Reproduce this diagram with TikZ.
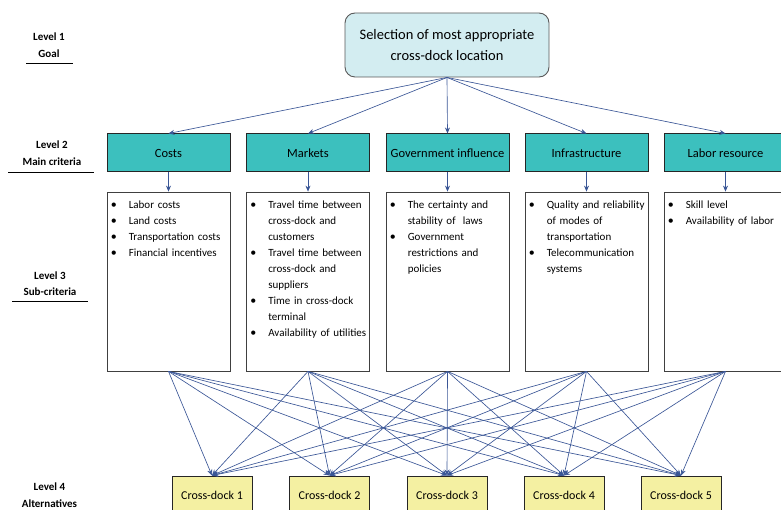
\documentclass[tikz,border=0pt]{standalone}
\usepackage{fontspec}
\setmainfont{Carlito}
\usetikzlibrary{arrows.meta}
\definecolor{arrowblue}{HTML}{3A5696}
\definecolor{goalfill}{HTML}{D3EDF1}
\definecolor{critfill}{HTML}{3CC0BE}
\definecolor{altfill}{HTML}{F4F0A2}
\tikzset{
  goalbox/.style={draw=black!65, line width=0.9pt, fill=goalfill, rounded corners=10pt, minimum width=204pt, minimum height=64pt, inner sep=0pt, align=center, font=\fontsize{14.5}{21}\selectfont},
  critbox/.style={draw=black!85, line width=1pt, fill=critfill, minimum width=123pt, minimum height=38pt, inner sep=0pt, font=\fontsize{12.5}{15}\selectfont},
  subbox/.style={draw=black!75, line width=0.8pt, fill=white, minimum width=123pt, minimum height=179pt, inner sep=0pt},
  subtext/.style={anchor=north west, inner sep=0pt, text width=121pt, align=left, font=\fontsize{11}{16}\selectfont},
  altbox/.style={draw=black!85, line width=1pt, fill=altfill, minimum width=80pt, minimum height=38pt, inner sep=0pt, font=\fontsize{12}{15}\selectfont},
  lvl/.style={align=center, inner sep=0pt, font=\bfseries\fontsize{11}{16.5}\selectfont},
  conn/.style={draw=arrowblue, line width=0.65pt, -{Stealth[length=6pt,width=5pt]}},
  uline/.style={draw=black, line width=0.7pt}
}
\newcommand{\bitem}[1]{\noindent\hangindent=18pt\hangafter=1\hyphenpenalty=10000\makebox[18pt][l]{\large\textbullet}#1\par}
\begin{document}
\begin{tikzpicture}[x=1pt,y=-1pt]
\useasboundingbox (0,0) rectangle (781,510);
% level labels
\node[lvl] (l1) at (49,45) {Level 1\\Goal};
\node[lvl] (l2) at (52,153) {Level 2\\Main criteria};
\node[lvl] (l3) at (50,283.5) {Level 3\\Sub-criteria};
\node[lvl] (l4) at (49.5,495) {Level 4\\Alternatives};
\draw[uline] (26,63) -- (73,63);
\draw[uline] (8,172) -- (94,172);
\draw[uline] (12,301) -- (88,301);
% goal
\node[goalbox] (g) at (447,45) {Selection of most appropriate\\cross-dock location};
% level 2
\node[critbox] (c1) at (168.5,153) {Costs};
\node[critbox] (c2) at (308,153) {Markets};
\node[critbox] (c3) at (447.5,153) {Government influence};
\node[critbox] (c4) at (586.5,153) {Infrastructure};
\node[critbox] (c5) at (725.5,153) {Labor resource};
% level 3
\foreach \i/\x in {1/168.5,2/308,3/447.5,4/586.5,5/725.5}{
  \node[subbox] (s\i) at (\x,281.5) {};
}
\node[subtext] (t1) at ([xshift=4pt,yshift=-9pt]s1.north west) {%
\bitem{Labor costs}\bitem{Land costs}\bitem{Transportation costs}\bitem{Financial incentives}};
\node[subtext] (t2) at ([xshift=4pt,yshift=-9pt]s2.north west) {%
\bitem{Travel time between cross-dock and customers}\bitem{Travel time between cross-dock and suppliers}\bitem{Time in cross-dock terminal}\bitem{Availability of utilities}};
\node[subtext] (t3) at ([xshift=4pt,yshift=-9pt]s3.north west) {%
\bitem{The certainty and stability of\ \ laws}\bitem{Government restrictions and policies}};
\node[subtext] (t4) at ([xshift=4pt,yshift=-9pt]s4.north west) {%
\bitem{Quality and reliability of modes of transportation}\bitem{Telecommunication systems}};
\node[subtext] (t5) at ([xshift=4pt,yshift=-9pt]s5.north west) {%
\bitem{Skill level}\bitem{Availability of labor}};
% level 4
\node[altbox] (a1) at (212,495) {Cross-dock 1};
\node[altbox] (a2) at (329.5,495) {Cross-dock 2};
\node[altbox] (a3) at (447,495) {Cross-dock 3};
\node[altbox] (a4) at (564,495) {Cross-dock 4};
\node[altbox] (a5) at (681,495) {Cross-dock 5};
% connectors
\foreach \i in {1,...,5}{
  \draw[conn] (g.south) -- (c\i.north);
  \draw[conn] (c\i.south) -- (s\i.north);
  \foreach \j in {1,...,5}{
    \draw[conn] (s\i.south) -- (a\j.north);
  }
}
\end{tikzpicture}
\end{document}
